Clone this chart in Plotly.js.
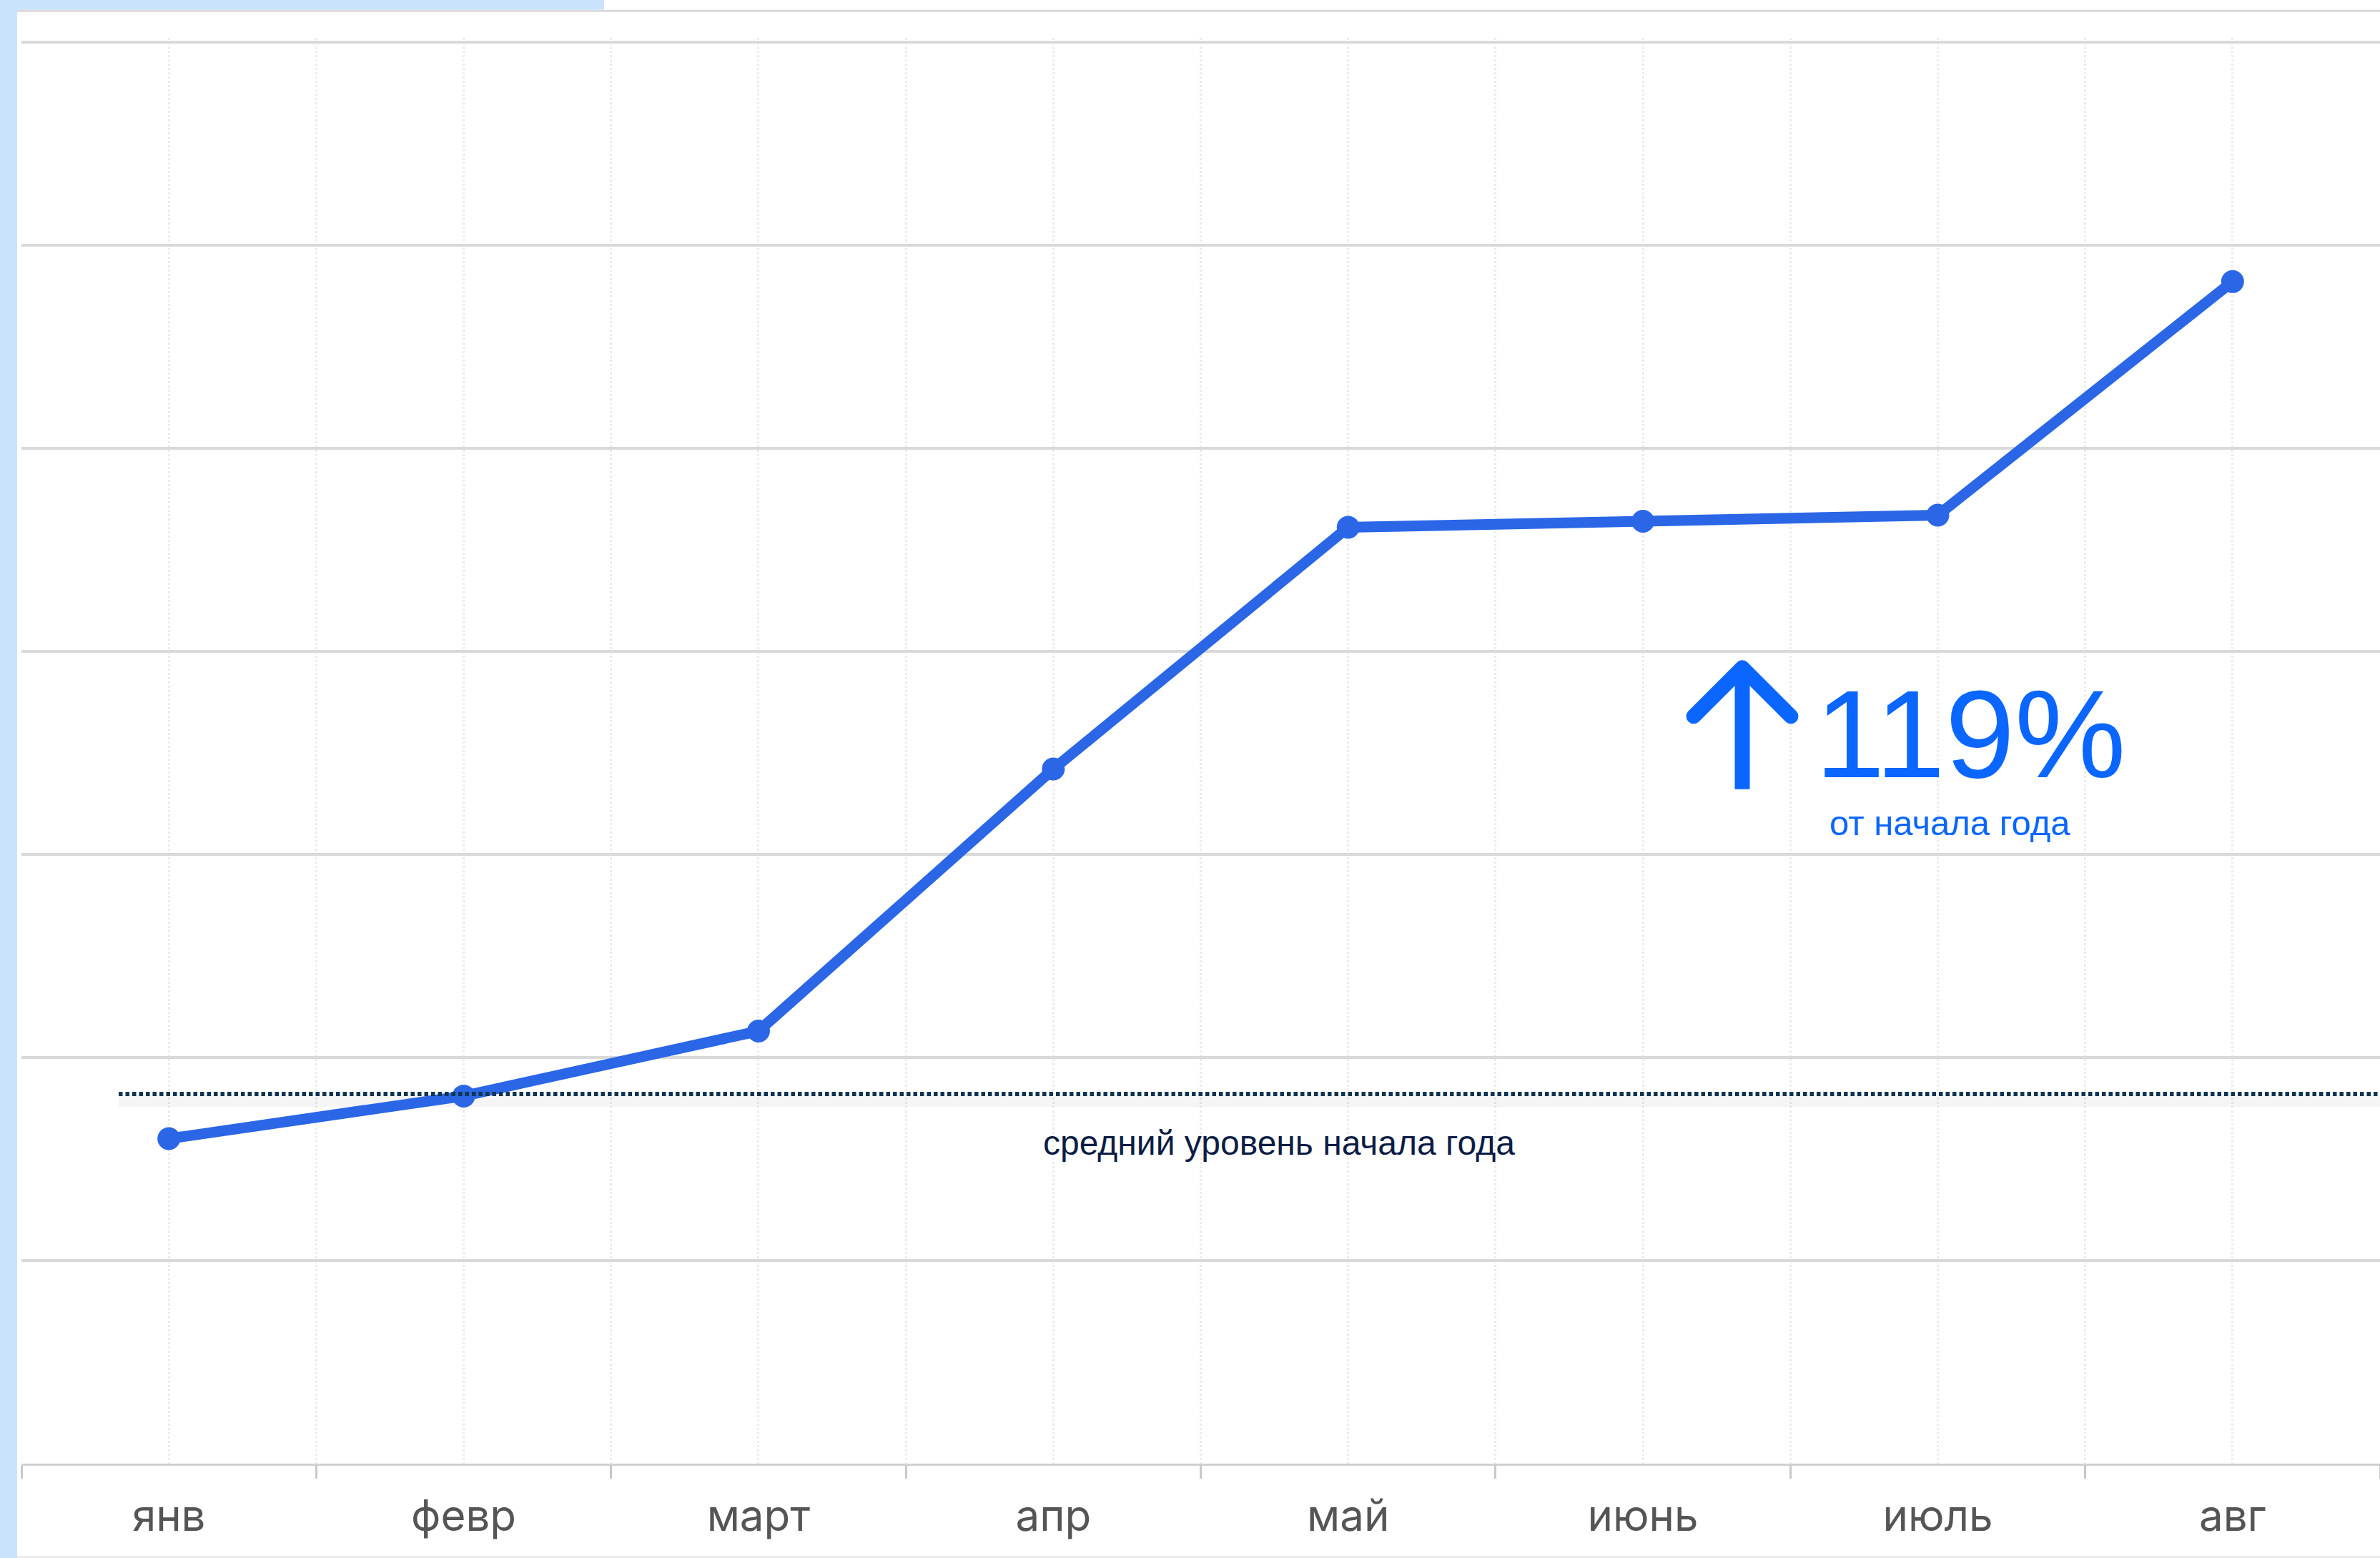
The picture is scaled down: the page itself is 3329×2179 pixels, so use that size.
<!DOCTYPE html>
<html>
<head>
<meta charset="utf-8">
<script src="https://cdn.plot.ly/plotly-3.0.1.min.js"></script>
<style>
  html, body { margin: 0; padding: 0; background: #ffffff; }
  #chart { width: 3329px; height: 2179px; }
</style>
</head>
<body>
<div id="chart"></div>
<script>
// ---- data ----
const categories = ['янв', 'февр', 'март', 'апр', 'май', 'июнь', 'июль', 'авг'];
const values = [1.60, 1.81, 2.13, 3.42, 4.61, 4.64, 4.67, 5.82];
const avgLevel = 1.82;
const avgLabel = 'средний уровень начала года';
const growthValue = '119%';
const growthLabel = 'от начала года';

// ---- geometry ----
const W = 3329, H = 2179;
const XR = [-0.5, categories.length - 0.5];
const YR = [0, 7.02];
const pxY = 284;
const MB = 132;
const PH = (YR[1] - YR[0]) * pxY;
const M = { l: 30, r: 0, t: H - MB - PH, b: MB };
const PW = W - M.l - M.r;
const xIdx = categories.map((c, i) => i);
const pxX = PW / (XR[1] - XR[0]);
const toX = px => (px - M.l) / pxX + XR[0];
const toY = py => (H - M.b - py) / pxY + YR[0];
const paperX = px => (px - M.l) / PW;
const paperY = py => (H - M.b - py) / PH;

const lineBlue = '#2a66e6';
const accent = '#0a66ff';
const navy = '#0f3553';

const trace = {
  x: xIdx,
  y: values,
  type: 'scatter',
  mode: 'lines+markers',
  line: { color: lineBlue, width: 15 },
  marker: { color: lineBlue, size: 32 },
  hoverinfo: 'skip',
  showlegend: false
};

const shapes = [
  // left light-blue strip
  { type: 'rect', xref: 'paper', yref: 'paper', layer: 'below',
    x0: paperX(0), x1: paperX(24), y0: paperY(H), y1: paperY(0),
    fillcolor: '#c9e4fa', line: { width: 0 } },
  // top light-blue strip
  { type: 'rect', xref: 'paper', yref: 'paper', layer: 'below',
    x0: paperX(0), x1: paperX(845), y0: paperY(14), y1: paperY(0),
    fillcolor: '#c9e4fa', line: { width: 0 } },
  // top border line
  { type: 'line', xref: 'paper', yref: 'paper', layer: 'below',
    x0: paperX(24), x1: paperX(W), y0: paperY(15.5), y1: paperY(15.5),
    line: { color: '#d9d9d9', width: 3 } },
  // bottom border line
  { type: 'line', xref: 'paper', yref: 'paper', layer: 'below',
    x0: paperX(24), x1: paperX(W), y0: paperY(2177.5), y1: paperY(2177.5),
    line: { color: '#e2e2e2', width: 2 } },
  // shadow under the average line
  { type: 'line', xref: 'x', yref: 'y', layer: 'between',
    x0: toX(166), x1: XR[1], y0: avgLevel - 10 / pxY, y1: avgLevel - 10 / pxY,
    line: { color: 'rgba(0,0,0,0.04)', width: 16 } },
  // dotted average line
  { type: 'line', xref: 'x', yref: 'y', layer: 'above',
    x0: toX(166), x1: XR[1], y0: avgLevel, y1: avgLevel,
    line: { color: navy, width: 6, dash: '5.5px,4px' } },
  // arrow head
  { type: 'path', xref: 'x', yref: 'y', layer: 'above',
    path: 'M ' + toX(2369) + ',' + toY(1002) + ' L ' + toX(2437) + ',' + toY(934) +
          ' L ' + toX(2505) + ',' + toY(1002),
    line: { color: accent, width: 21 } },
  // arrow stem
  { type: 'line', xref: 'x', yref: 'y', layer: 'above',
    x0: toX(2437), x1: toX(2437), y0: toY(940), y1: toY(1104),
    line: { color: accent, width: 21 } }
];

const annotations = [
  { xref: 'x', yref: 'y', x: toX(1789), y: toY(1599), text: avgLabel,
    showarrow: false, xanchor: 'center', yanchor: 'middle',
    font: { family: 'Liberation Sans, Arial, sans-serif', size: 48, color: '#0b1d45' } },
  { xref: 'x', yref: 'y', x: toX(2537), y: toY(1027), text: growthValue,
    showarrow: false, xanchor: 'left', yanchor: 'middle',
    font: { family: 'Liberation Sans, Arial, sans-serif', size: 175, color: accent } },
  { xref: 'x', yref: 'y', x: toX(2557), y: toY(1151), text: growthLabel,
    showarrow: false, xanchor: 'left', yanchor: 'middle',
    font: { family: 'Liberation Sans, Arial, sans-serif', size: 49, color: accent } }
];

const layout = {
  width: W, height: H,
  margin: M,
  paper_bgcolor: '#ffffff',
  plot_bgcolor: '#ffffff',
  showlegend: false,
  xaxis: {
    type: 'linear',
    range: XR,
    tickmode: 'array',
    tickvals: xIdx,
    ticktext: categories,
    ticks: '',
    showgrid: true,
    gridcolor: '#ececec',
    gridwidth: 3,
    griddash: 'dot',
    zeroline: false,
    showline: true,
    linecolor: '#d0d0d0',
    linewidth: 3,
    ticklabelstandoff: 19,
    tickfont: { family: 'Inter, Roboto, sans-serif', size: 60, color: '#555555' },
    minor: {
      tickmode: 'linear', tick0: -0.5, dtick: 1,
      ticks: 'outside', ticklen: 18, tickwidth: 3, tickcolor: '#c8c8c8',
      showgrid: true, gridcolor: '#ececec', gridwidth: 3, griddash: 'dot'
    },
    fixedrange: true
  },
  yaxis: {
    range: YR,
    tickmode: 'linear', tick0: 0, dtick: 1,
    showticklabels: false,
    ticks: '',
    showgrid: true,
    gridcolor: '#d9d9d9',
    gridwidth: 4,
    zeroline: false,
    showline: false,
    fixedrange: true
  },
  shapes: shapes,
  annotations: annotations
};

Plotly.newPlot('chart', [trace], layout, { staticPlot: true, displayModeBar: false }).then(() => {
  document.querySelectorAll('.shapelayer path').forEach(p => {
    if (p.getAttribute('data-index') === '6') {
      p.style.strokeLinecap = 'round';
      p.style.strokeLinejoin = 'round';
    }
  });
});
</script>
</body>
</html>
